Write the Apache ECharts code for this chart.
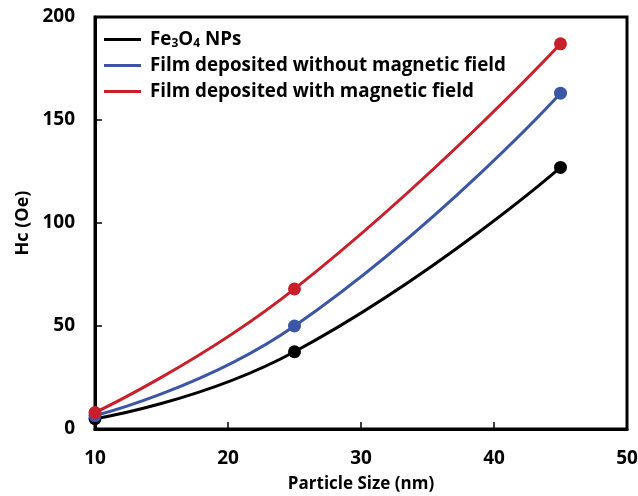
<!DOCTYPE html>
<html>
<head>
<meta charset="utf-8">
<script src="https://cdn.jsdelivr.net/npm/echarts@6/dist/echarts.min.js"></script>
<style>html,body{margin:0;padding:0;background:#fff}#c{width:638px;height:496px}</style>
</head>
<body>
<div id="c"></div>
<script>
const particleSize = [10, 25, 45];
const fe3o4NPs = [5, 37.5, 127];
const filmWithout = [6.5, 50, 163];
const filmWith = [8, 68, 187];
const seriesNames = ['Fe3O4 NPs', 'Film deposited without magnetic field', 'Film deposited with magnetic field'];
const xTicks = [10, 20, 30, 40, 50];
const yTicks = [0, 50, 100, 150, 200];

const FONT = 'Open Sans';
const colors = ['#000000', '#3C56A6', '#C8202B'];
const chart = echarts.init(document.getElementById('c'));
function pairs(ys){ return particleSize.map((x,i)=>[x, ys[i]]); }
const datasets = [fe3o4NPs, filmWithout, filmWith];
chart.setOption({
  animation: false,
  grid: {left: 95, right: 11, top: 17, bottom: 67, outerBoundsMode: 'none', containLabel: false, show: true, borderColor: '#000', borderWidth: 3, backgroundColor: 'transparent'},
  legend: {
    orient: 'vertical', left: 104, top: 29, padding: 0, itemWidth: 37, itemHeight: 3, itemGap: 5,
    icon: 'rect',
    data: seriesNames,
    formatter: function(n){ return n === seriesNames[0] ? 'Fe{sub|3}O{sub|4} NPs' : n; },
    textStyle: {fontFamily: FONT, fontWeight: 'bold', fontSize: 18.8, color: '#000', padding: [0,0,0,4], lineHeight: 21,
      rich: {sub: {fontFamily: FONT, fontWeight: 'bold', fontSize: 12, color: '#000', verticalAlign: 'bottom', lineHeight: 21, padding: [9,0,0,0]}}}
  },
  xAxis: {
    type: 'value', min: xTicks[0], max: xTicks[xTicks.length-1], interval: 10,
    name: 'Particle Size (nm)', nameLocation: 'middle', nameGap: 47,
    nameTextStyle: {fontFamily: FONT, fontWeight: 'bold', fontSize: 17, color: '#000'},
    axisLine: {lineStyle: {color: '#000', width: 3}},
    axisTick: {inside: true, length: 7, lineStyle: {color: '#000', width: 1.5}},
    axisLabel: {fontFamily: FONT, fontWeight: 'bold', fontSize: 19, color: '#000', margin: 20},
    splitLine: {show: false}
  },
  yAxis: {
    type: 'value', min: yTicks[0], max: yTicks[yTicks.length-1], interval: 50,
    name: 'Hc (Oe)', nameLocation: 'middle', nameGap: 63, nameRotate: 90,
    nameTextStyle: {fontFamily: FONT, fontWeight: 'bold', fontSize: 18, color: '#000'},
    axisLine: {lineStyle: {color: '#000', width: 3}},
    axisTick: {inside: true, length: 7, lineStyle: {color: '#000', width: 1.5}},
    axisLabel: {fontFamily: FONT, fontWeight: 'bold', fontSize: 19, color: '#000', margin: 20},
    splitLine: {show: false}
  },
  series: datasets.map((d,i)=>({
    name: seriesNames[i], type: 'line', data: pairs(d), smooth: 0.5,
    symbol: 'circle', symbolSize: 13, color: colors[i],
    lineStyle: {width: 3, color: colors[i]}, itemStyle: {color: colors[i]}
  }))
});
</script>
</body>
</html>
